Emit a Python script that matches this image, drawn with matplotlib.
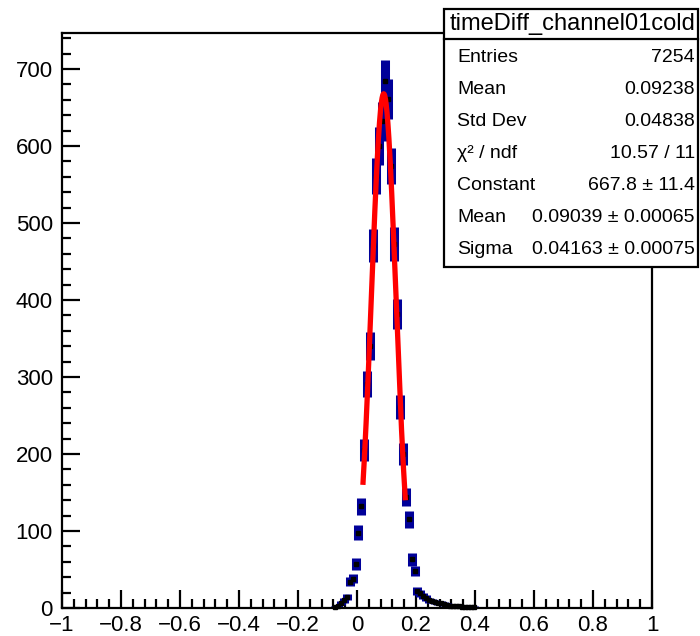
import numpy as np
import matplotlib
matplotlib.use("Agg")
import matplotlib.pyplot as plt
from matplotlib.patches import Rectangle
from matplotlib.ticker import MultipleLocator

plt.rcParams['font.family'] = ['Liberation Sans', 'DejaVu Sans']

# ---- data ----
bin_centers = [-0.075, -0.065, -0.055, -0.045, -0.035, -0.025, -0.015, -0.005,
               0.005, 0.015, 0.025, 0.035, 0.045, 0.055, 0.065, 0.075, 0.085,
               0.095, 0.105, 0.115, 0.125, 0.135, 0.145, 0.155, 0.165, 0.175,
               0.185, 0.195, 0.205, 0.215, 0.225, 0.235, 0.245, 0.255, 0.265,
               0.275, 0.285, 0.295, 0.305, 0.315, 0.325, 0.335, 0.345, 0.355,
               0.365, 0.375, 0.385, 0.395]
counts = [1, 2, 6, 10, 14, 34, 38, 57,
          98, 132, 205, 291, 340, 471, 561, 600, 632,
          685, 661, 574, 473, 382, 261, 200, 144, 115,
          63, 48, 22, 19, 15, 13, 10, 9, 8,
          7, 6, 5, 4, 3, 2, 2, 2, 1,
          1, 1, 1, 1]

fit_constant = 667.8
fit_mean = 0.09039
fit_sigma = 0.04163
fit_range = [0.020, 0.164]

x_ticks = [-1, -0.8, -0.6, -0.4, -0.2, 0, 0.2, 0.4, 0.6, 0.8, 1]
x_tick_labels = ['\u22121', '\u22120.8', '\u22120.6', '\u22120.4', '\u22120.2', '0',
                 '0.2', '0.4', '0.6', '0.8', '1']
y_ticks = [0, 100, 200, 300, 400, 500, 600, 700]

stats_title = "timeDiff_channel01cold"
stats_names = ["Entries", "Mean", "Std Dev", "\u03c7\u00b2 / ndf", "Constant", "Mean", "Sigma"]
stats_values = ["7254", "0.09238", "0.04838", "10.57 / 11", "667.8 \u00b1 11.4",
                "0.09039 \u00b1 0.00065", "0.04163 \u00b1 0.00075"]

# ---- figure ----
W, H = 700, 636
fig = plt.figure(figsize=(W / 100, H / 100), dpi=100)

def fx(px):
    return px / W

def fy(py):
    return 1 - py / H

ax_left, ax_right, ax_top, ax_bottom = 62, 652, 33, 608
ax = fig.add_axes([fx(ax_left), fy(ax_bottom), (ax_right - ax_left) / W, (ax_bottom - ax_top) / H])

x = np.array(bin_centers)
y = np.array(counts, dtype=float)
ax.errorbar(x, y, yerr=np.sqrt(y), fmt='none', ecolor='#000099', elinewidth=6.5,
            capsize=0, clip_on=False, zorder=2)
ax.plot(x, y, 's', color='black', markersize=2.2, clip_on=False, zorder=3)

xf = np.linspace(fit_range[0], fit_range[1], 200)
yf = fit_constant * np.exp(-0.5 * ((xf - fit_mean) / fit_sigma) ** 2)
ax.plot(xf, yf, color='#ff0000', linewidth=3.8, zorder=4, solid_capstyle='butt')

ax.set_xlim(-1, 1)
ax.set_ylim(0, 746.7)
ax.set_xticks(x_ticks)
ax.set_xticklabels(x_tick_labels)
ax.set_yticks(y_ticks)
ax.xaxis.set_minor_locator(MultipleLocator(0.04))
ax.yaxis.set_minor_locator(MultipleLocator(20))
ax.tick_params(which='both', direction='in', top=False, right=False, width=1.6, colors='black')
ax.tick_params(which='major', length=13, labelsize=16)
ax.tick_params(which='minor', length=6.5)
ax.tick_params(axis='x', which='major', pad=5)
ax.tick_params(axis='y', which='major', pad=6.5)
for s in ax.spines.values():
    s.set_linewidth(1.6)

# ---- stats box ----
bx0, bx1, by0, by1, bsep = 444, 698, 9, 267, 39
fig.patches.append(Rectangle((fx(bx0), fy(by1)), (bx1 - bx0) / W, (by1 - by0) / H,
                             transform=fig.transFigure, facecolor='white',
                             edgecolor='black', linewidth=1.6, zorder=5))
fig.lines.append(plt.Line2D([fx(bx0), fx(bx1)], [fy(bsep), fy(bsep)],
                            transform=fig.transFigure, color='black', linewidth=1.6, zorder=6))
fig.text(fx((bx0 + bx1) / 2 + 2), fy(24), stats_title, ha='center', va='center',
         fontsize=17, zorder=7)
row_y = [58, 90, 121, 153, 185, 217, 249]
for ry, nm, val in zip(row_y, stats_names, stats_values):
    fig.text(fx(457), fy(ry), nm, ha='left', va='center', fontsize=14, zorder=7)
    fig.text(fx(695), fy(ry), val, ha='right', va='center', fontsize=14, zorder=7)

fig.savefig("out.png", dpi=100)
